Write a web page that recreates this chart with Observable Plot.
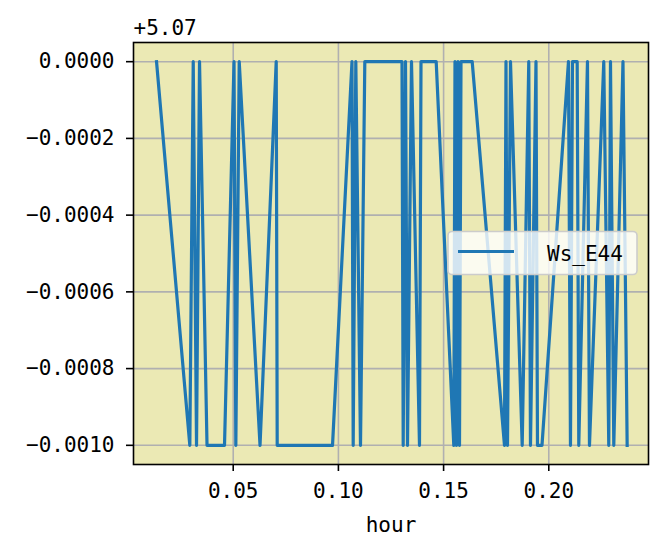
<!DOCTYPE html>
<html><head><meta charset="utf-8">
<script src="https://cdn.jsdelivr.net/npm/d3@7"></script>
<script src="https://cdn.jsdelivr.net/npm/@observablehq/plot@0.6"></script>
<style>
body{margin:0;background:#fff;}
#chart{position:relative;width:652px;height:545px;}
#chart svg{overflow:visible;}
</style></head><body><div id="chart"></div>
<script>
// ---- data ----
const seriesName = "Ws_E44";
const xLabel = "hour";
const yOffset = 5.07;
const offsetLabel = "+5.07";
const hours = [
  0.01355, 0.02937, 0.03099, 0.03256, 0.03398, 0.03755, 0.04586, 0.05038, 0.05124, 0.05285,
  0.06274, 0.07044, 0.07091, 0.09720, 0.10646, 0.10703, 0.10827, 0.11050, 0.11255, 0.13023,
  0.13080, 0.13189, 0.13284, 0.13474, 0.13854, 0.13926, 0.14648, 0.15485, 0.15542, 0.15613,
  0.15684, 0.15756, 0.15827, 0.16359, 0.17894, 0.17966, 0.18037, 0.18180, 0.18736, 0.19049,
  0.19130, 0.19392, 0.19463, 0.19677, 0.20936, 0.21031, 0.21127, 0.21350, 0.21426, 0.21839,
  0.21934, 0.22614, 0.22852, 0.22933, 0.23090, 0.23527, 0.23726
];
const ws = [
  5.070, 5.069, 5.070, 5.069, 5.070, 5.069, 5.069, 5.070, 5.069, 5.070,
  5.069, 5.070, 5.069, 5.069, 5.070, 5.069, 5.070, 5.069, 5.070, 5.070,
  5.069, 5.070, 5.069, 5.070, 5.069, 5.070, 5.070, 5.069, 5.070, 5.069,
  5.070, 5.069, 5.070, 5.070, 5.069, 5.070, 5.069, 5.070, 5.069, 5.070,
  5.069, 5.070, 5.069, 5.069, 5.070, 5.069, 5.070, 5.070, 5.069, 5.070,
  5.069, 5.070, 5.069, 5.070, 5.069, 5.070, 5.069
];
const xTicks = [0.05, 0.10, 0.15, 0.20];
const xTickLabels = ["0.05", "0.10", "0.15", "0.20"];
const yTickOffsets = [0, -0.0002, -0.0004, -0.0006, -0.0008, -0.0010];
const yTickLabels = ["0.0000", "\u22120.0002", "\u22120.0004", "\u22120.0006", "\u22120.0008", "\u22120.0010"];

// ---- chart ----
const data = hours.map((h, i) => ({hour: h, value: ws[i]}));
const yTicks = yTickOffsets.map(o => yOffset + o);
const FONT = "'DejaVu Sans Mono', monospace";
const W = 652, H = 545;
const mL = 133, mR = 4, mT = 42, mB = 81;
const bg = "#ebe9b4";
const lineColor = "#1f77b4";

const chart = Plot.plot({
  width: W, height: H,
  marginLeft: mL, marginRight: mR, marginTop: mT, marginBottom: mB,
  style: {fontFamily: FONT, fontSize: "21px", color: "#000", background: "#fff", overflow: "visible"},
  x: {domain: [0.0026, 0.2474], label: null},
  y: {domain: [yOffset - 0.00105, yOffset + 0.00005], label: null},
  marks: [
    Plot.frame({fill: bg, stroke: null}),
    Plot.gridX(xTicks, {stroke: "#b0b0b0", strokeOpacity: 1, strokeWidth: 1.6}),
    Plot.gridY(yTicks, {stroke: "#b0b0b0", strokeOpacity: 1, strokeWidth: 1.6}),
    Plot.line(data, {x: "hour", y: "value", stroke: lineColor, strokeWidth: 3.2, strokeLinejoin: "round", strokeLinecap: "square"}),
    Plot.frame({stroke: "#000", strokeWidth: 1.6}),
    Plot.axisX(xTicks, {anchor: "bottom", tickSize: 7, tickPadding: 12, strokeWidth: 1.6,
      tickFormat: (d, i) => xTickLabels[i], fontSize: 21, label: null}),
    Plot.axisY(yTicks, {anchor: "left", tickSize: 7, tickPadding: 12, strokeWidth: 1.6,
      tickFormat: (d, i) => yTickLabels[i], fontSize: 21, label: null}),
    Plot.text([xLabel], {frameAnchor: "bottom", dy: 61, lineAnchor: "middle", fontSize: 21, fill: "#000"}),
    Plot.text([offsetLabel], {frameAnchor: "top-left", textAnchor: "start", dy: -14, lineAnchor: "middle", fontSize: 21, fill: "#000"})
  ]
});
document.getElementById("chart").appendChild(chart);

// ---- legend (center right, inside the axes) ----
const svg = d3.select(chart);
const frameRight = W - mR, frameTop = mT, frameBottom = H - mB;
const legW = 189, legH = 43, pad = 11;
const lx = frameRight - pad - legW;
const ly = (frameTop + frameBottom) / 2 - legH / 2;
const g = svg.append("g");
g.append("rect").attr("x", lx).attr("y", ly).attr("width", legW).attr("height", legH)
  .attr("rx", 4).attr("fill", "#ffffff").attr("fill-opacity", 0.8)
  .attr("stroke", "#cccccc").attr("stroke-width", 1.6);
g.append("line").attr("x1", lx + 10).attr("x2", lx + 66)
  .attr("y1", ly + legH / 2 - 1.5).attr("y2", ly + legH / 2 - 1.5)
  .attr("stroke", lineColor).attr("stroke-width", 3.2);
g.append("text").attr("x", lx + 99).attr("y", ly + legH / 2 + 7.5)
  .attr("text-anchor", "start")
  .attr("font-family", FONT).attr("font-size", 21).attr("fill", "#000")
  .text(seriesName);
</script></body></html>
